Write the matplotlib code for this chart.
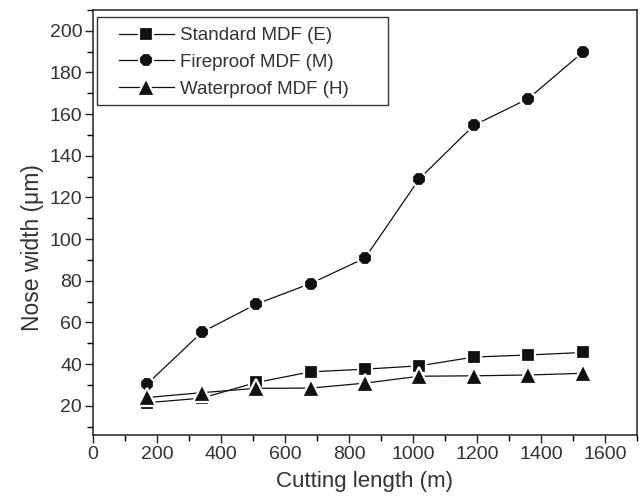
import matplotlib.pyplot as plt
from matplotlib.patches import Rectangle
from matplotlib.ticker import MultipleLocator

plt.rcParams['font.family'] = ['Liberation Sans', 'DejaVu Sans']

# Cutting length (m)
cutting_length = [170, 340, 510, 680, 850, 1020, 1190, 1360, 1530]

# Nose width (um) for each board type
standard_mdf = [21.5, 23.7, 31.2, 36.3, 37.6, 39.2, 43.4, 44.4, 45.6]
fireproof_mdf = [30.6, 55.3, 68.8, 78.7, 90.9, 129.0, 154.6, 167.4, 189.6]
waterproof_mdf = [24.0, 26.3, 28.4, 28.5, 30.9, 34.2, 34.4, 34.8, 35.6]

labels = ['Standard MDF (E)', 'Fireproof MDF (M)', 'Waterproof MDF (H)']

fig = plt.figure(figsize=(6.4, 4.96), dpi=100)
ax = fig.add_axes([0.1453, 0.123, 0.85, 0.857])

style = dict(color='#111111', linewidth=0.9, markeredgecolor='white',
             markerfacecolor='#111111', markeredgewidth=1.6)
ax.plot(cutting_length, standard_mdf, marker='s', markersize=10.5,
        label=labels[0], **style)
ax.plot(cutting_length, fireproof_mdf, marker='8', markersize=11.5,
        label=labels[1], **style)
ax.plot(cutting_length, waterproof_mdf, marker='^', markersize=12.5,
        label=labels[2], **style)

ax.set_xlim(0, 1700)
ax.set_ylim(6, 210)
ax.xaxis.set_major_locator(MultipleLocator(200))
ax.xaxis.set_minor_locator(MultipleLocator(100))
ax.yaxis.set_minor_locator(MultipleLocator(10))
ax.set_yticks([20, 40, 60, 80, 100, 120, 140, 160, 180, 200])

ax.tick_params(axis='both', which='major', direction='out', length=6,
               width=1, labelsize=14, colors='#222222', labelcolor='#333333',
               pad=1.8)
ax.tick_params(axis='both', which='minor', direction='out', length=4, width=1)
for s in ax.spines.values():
    s.set_linewidth(1.1)
    s.set_color('#222222')

ax.set_xlabel('Cutting length (m)', fontsize=16, color='#333333', labelpad=6)
ax.set_ylabel('Nose width (\u03bcm)', fontsize=16.5, color='#333333')
ax.yaxis.set_label_coords(-0.09, 0.44)

# legend box is wider than its entries, so the frame is drawn by hand
ax.add_patch(Rectangle((0.0074, 0.776), 0.5349, 0.2075, transform=ax.transAxes,
                       fill=False, linewidth=1.0, edgecolor='#333333',
                       clip_on=False, zorder=5))
leg = ax.legend(loc='upper left', bbox_to_anchor=(0.0294, 0.984),
                borderaxespad=0, fontsize=13.5, handlelength=2.9,
                frameon=False, labelspacing=0.52, borderpad=0.55,
                handletextpad=0.35)
for t in leg.get_texts():
    t.set_color('#333333')

fig.savefig('out.png', dpi=100)
